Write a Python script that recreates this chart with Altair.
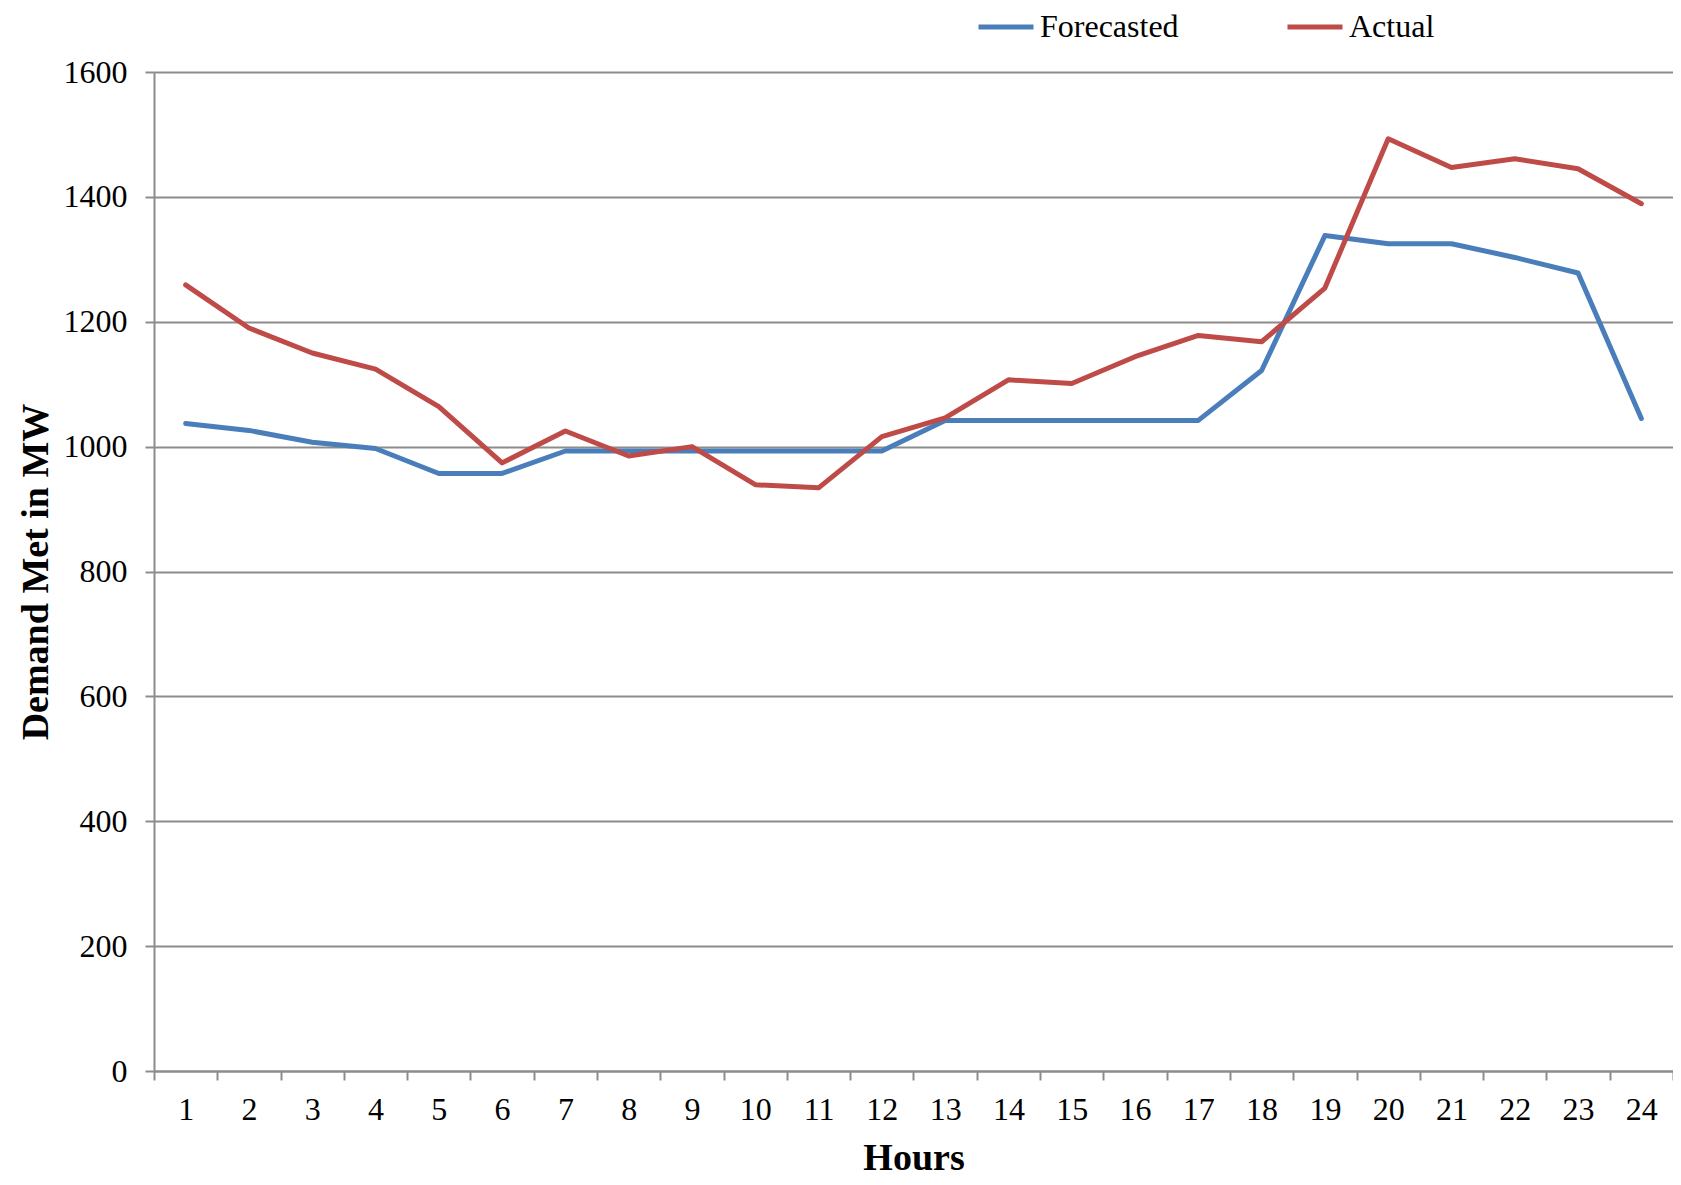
import altair as alt
import pandas as pd

hours = list(range(1, 25))
forecasted = [1037, 1026, 1007, 997, 957, 957, 993, 993, 993, 993, 993, 993,
              1042, 1042, 1042, 1042, 1042, 1122, 1338, 1325, 1325, 1303, 1278, 1045]
actual = [1259, 1190, 1150, 1124, 1064, 974, 1025, 985, 1000, 939, 934, 1016,
          1046, 1107, 1101, 1144, 1178, 1168, 1254, 1493, 1447, 1461, 1445, 1389]
series_names = ["Forecasted", "Actual"]
series_colors = ["#4A7EBB", "#BE4B48"]
y_ticks = [0, 200, 400, 600, 800, 1000, 1200, 1400, 1600]

rows = []
for name, vals in zip(series_names, [forecasted, actual]):
    for h, v in zip(hours, vals):
        rows.append({"Hour": h, "Demand": v, "Series": name})
df = pd.DataFrame(rows)

FONT = "Liberation Serif"
GRID = "#8C8C8C"

chart = alt.Chart(df).mark_line(
    strokeWidth=5, strokeCap="round", strokeJoin="round"
).encode(
    x=alt.X(
        "Hour:O",
        sort=hours,
        scale=alt.Scale(type="band", paddingInner=0, paddingOuter=0),
        axis=alt.Axis(
            title="Hours",
            labelAngle=0,
            tickBand="extent",
            grid=False,
            domainColor=GRID, domainWidth=2,
            tickColor=GRID, tickWidth=2, tickSize=9,
            labelFont=FONT, labelFontSize=32, labelColor="#000000",
            labelPadding=14,
            titleFont=FONT, titleFontSize=38, titleFontWeight="bold",
            titleColor="#000000",
            titleBaseline="alphabetic", titleY=98,
        ),
    ),
    y=alt.Y(
        "Demand:Q",
        scale=alt.Scale(domain=[0, 1600], nice=False),
        axis=alt.Axis(
            title="Demand Met in MW",
            values=y_ticks,
            format="d",
            grid=True, gridColor=GRID, gridWidth=2,
            domainColor=GRID, domainWidth=2,
            tickColor=GRID, tickWidth=2, tickSize=9,
            labelFont=FONT, labelFontSize=32, labelColor="#000000",
            labelPadding=18,
            titleFont=FONT, titleFontSize=38, titleFontWeight="bold",
            titleColor="#000000",
            titleBaseline="alphabetic", titleAlign="center",
            titleX=-107, titleY=499.5, titleAngle=270,
        ),
    ),
    color=alt.Color(
        "Series:N",
        scale=alt.Scale(domain=series_names, range=series_colors),
        sort=series_names,
        legend=alt.Legend(
            title=None,
            orient="none",
            legendX=822,
            legendY=-75,
            direction="horizontal",
            symbolType="stroke",
            symbolSize=3025,
            symbolStrokeWidth=5,
            labelFont=FONT,
            labelFontSize=32,
            labelColor="#000000",
            labelOffset=4,
            columnPadding=98,
            padding=0,
        ),
    ),
    order=alt.Order("Hour:O"),
).properties(
    width=1519,
    height=999,
    autosize=alt.AutoSizeParams(type="none"),
    padding={"left": 146, "top": 64, "right": 0, "bottom": 105},
).configure_view(
    fill="#EDEAE0", stroke="transparent"
).configure(background="#FFFFFF")

chart.save("out.html", embed_options={"renderer": "svg", "actions": False})
